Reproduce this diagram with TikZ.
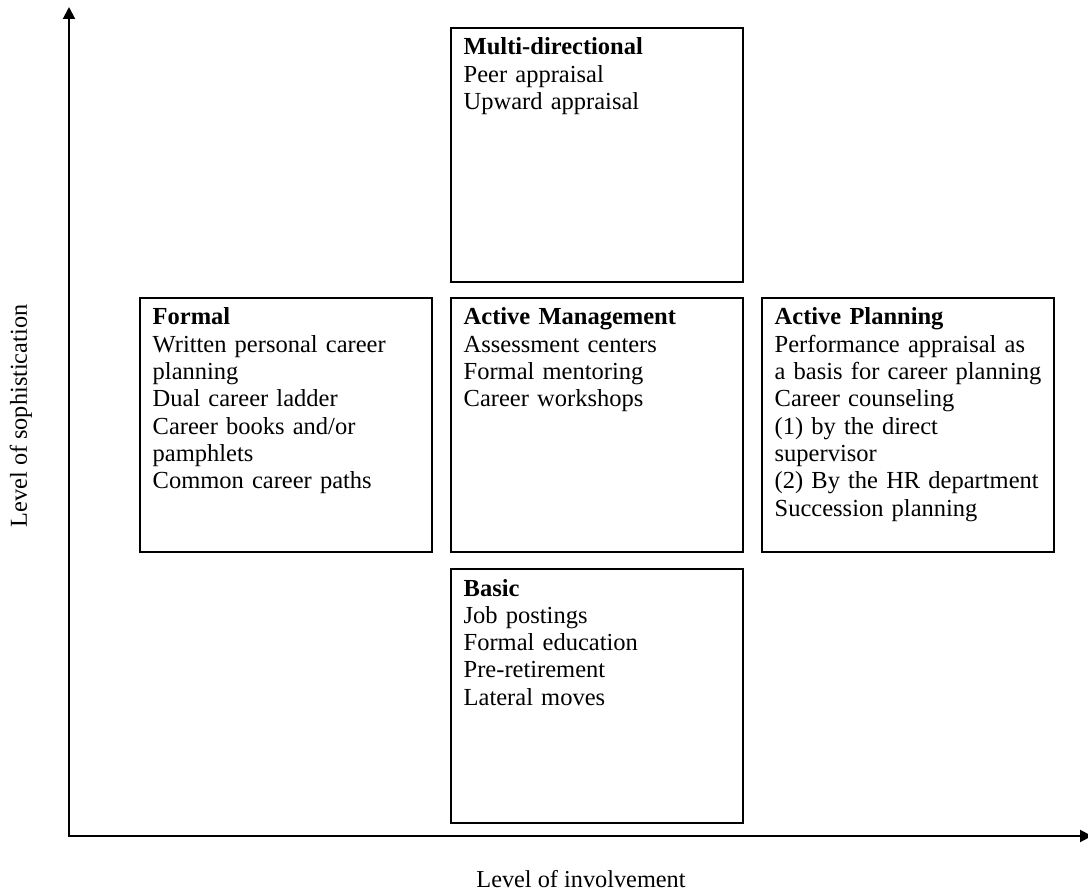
\documentclass[tikz,border=0pt]{standalone}
\usepackage{fontspec}
\setmainfont{Liberation Serif}
\usetikzlibrary{arrows.meta}
\begin{document}
\begin{tikzpicture}[x=1pt,y=-1pt,
  quad/.style={draw=black,line width=2pt,minimum width=292pt,minimum height=254pt,anchor=north west,inner sep=0pt},
  body/.style={anchor=base west,align=left,inner sep=0pt,text width=300pt,
    font=\fontsize{24.5}{27.3}\selectfont},
  axis/.style={line width=2pt,-{Triangle[length=12pt,width=12pt]}},
  axlabel/.style={font=\fontsize{24.3}{27}\selectfont,inner sep=0pt}]
\useasboundingbox (0,0) rectangle (1088,896);
% quadrant boxes
\node[quad] (multi)  at (450,27)  {};
\node[quad] (formal) at (139,297) {};
\node[quad] (mgmt)   at (450,297) {};
\node[quad] (plan)   at (761,297) {};
\node[quad] (basic)  at (450,568) {};
% box contents, first baseline 28pt below the top edge
\node[body] (multiT) at ([xshift=13.5pt,yshift=-28pt]multi.north west)
  {\textbf{Multi-directional}\\Peer appraisal\\Upward appraisal};
\node[body] (formalT) at ([xshift=13.5pt,yshift=-28pt]formal.north west)
  {\textbf{Formal}\\Written personal career\\planning\\Dual career ladder\\Career books and/or\\pamphlets\\Common career paths};
\node[body] (mgmtT) at ([xshift=13.5pt,yshift=-28pt]mgmt.north west)
  {\textbf{Active Management}\\Assessment centers\\Formal mentoring\\Career workshops};
\node[body] (planT) at ([xshift=13.5pt,yshift=-28pt]plan.north west)
  {\textbf{Active Planning}\\Performance appraisal as\\a basis for career planning\\Career counseling\\(1) by the direct\\supervisor\\(2) By the HR department\\Succession planning};
\node[body] (basicT) at ([xshift=13.5pt,yshift=-28pt]basic.north west)
  {\textbf{Basic}\\Job postings\\Formal education\\Pre-retirement\\Lateral moves};
% axes
\coordinate (origin) at (69,836);
\coordinate (ytop) at (69,7);
\coordinate (xend) at (1092,836);
\draw[axis] (origin) -- (ytop);
\draw[axis] ([xshift=-1pt]origin) -- (xend);
\node[axlabel,rotate=90,anchor=base] (ylab) at (27,416) {Level of sophistication};
\node[axlabel,anchor=base] (xlab) at (581,887) {Level of involvement};
\end{tikzpicture}
\end{document}
